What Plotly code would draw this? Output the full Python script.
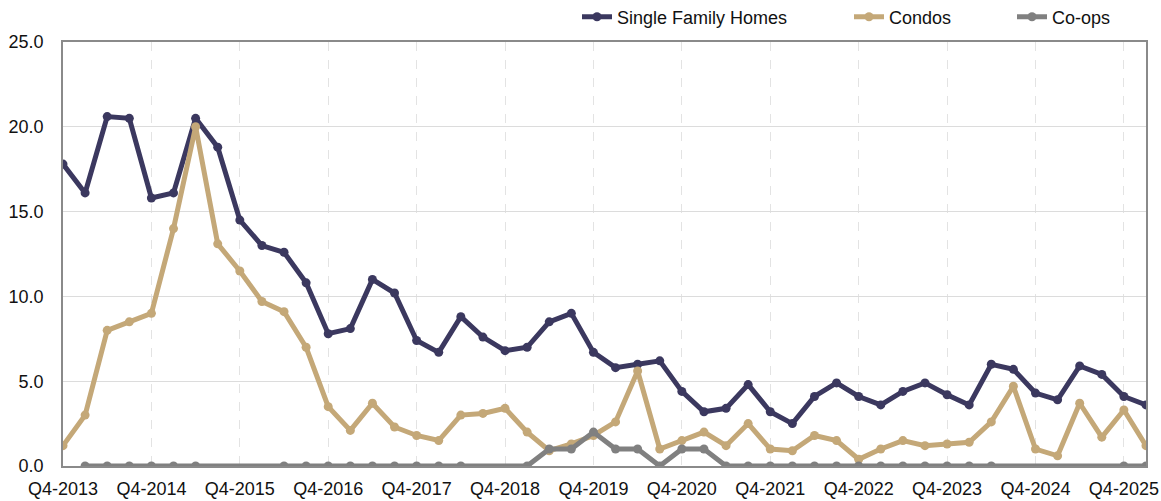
import plotly.graph_objects as go

quarters = ["Q4-2013"] + [f"Q{q}-{y}" for y in range(2014, 2026) for q in range(1, 5)] + ["Q1-2026"]

single_family = [17.8, 16.1, 20.6, 20.5, 15.8, 16.1, 20.5, 18.8, 14.5, 13.0,
                 12.6, 10.8, 7.8, 8.1, 11.0, 10.2, 7.4, 6.7, 8.8, 7.6,
                 6.8, 7.0, 8.5, 9.0, 6.7, 5.8, 6.0, 6.2, 4.4, 3.2,
                 3.4, 4.8, 3.2, 2.5, 4.1, 4.9, 4.1, 3.6, 4.4, 4.9,
                 4.2, 3.6, 6.0, 5.7, 4.3, 3.9, 5.9, 5.4, 4.1, 3.6]

condos = [1.2, 3.0, 8.0, 8.5, 9.0, 14.0, 20.0, 13.1, 11.5, 9.7,
          9.1, 7.0, 3.5, 2.1, 3.7, 2.3, 1.8, 1.5, 3.0, 3.1,
          3.4, 2.0, 0.9, 1.3, 1.8, 2.6, 5.6, 1.0, 1.5, 2.0,
          1.2, 2.5, 1.0, 0.9, 1.8, 1.5, 0.4, 1.0, 1.5, 1.2,
          1.3, 1.4, 2.6, 4.7, 1.0, 0.6, 3.7, 1.7, 3.3, 1.2]

coops = [None, 0, 0, 0, 0, 0, 0, None, None, None,
         0, 0, 0, 0, 0, 0, 0, 0, 0, None,
         None, 0, 1.0, 1.0, 2.0, 1.0, 1.0, 0, 1.0, 1.0,
         0, 0, 0, 0, 0, 0, 0, 0, 0, 0,
         0, 0, 0, None, None, None, None, None, 0, 0]

tick_labels = [quarters[i] for i in range(0, 49, 4)]
y_ticks = [0, 5, 10, 15, 20, 25]

series = [
    ("Single Family Homes", single_family, "#3b385f", "legend"),
    ("Condos", condos, "#c4a878", "legend2"),
    ("Co-ops", coops, "#808080", "legend3"),
]

fig = go.Figure()
for name, vals, color, lg in series:
    fig.add_trace(go.Scatter(
        x=quarters, y=vals, name=name, mode="lines+markers",
        connectgaps=True, legend=lg,
        line=dict(color=color, width=5),
        marker=dict(color=color, size=9),
    ))

W, H = 1161, 501

def legend_at(text_x):
    return dict(orientation="h", xref="container", yref="container",
                x=(text_x - 40) / W, xanchor="left",
                y=1 - 17 / H, yanchor="middle",
                font=dict(size=18), bgcolor="rgba(0,0,0,0)")

fig.update_layout(
    width=W, height=H,
    margin=dict(l=63, r=15, t=42, b=35, autoexpand=False),
    paper_bgcolor="white", plot_bgcolor="white",
    font=dict(family="Liberation Sans, Arial, sans-serif", color="#111111"),
    legend=legend_at(617),
    legend2=legend_at(889),
    legend3=legend_at(1052),
    showlegend=True,
)
fig.update_xaxes(
    type="category", range=[0, 49], automargin=False,
    tickmode="array", tickvals=tick_labels, ticktext=tick_labels,
    showgrid=True, gridcolor="#e3e3e3", griddash="dash", gridwidth=1,
    showline=True, linecolor="#8a8a8a", linewidth=1.5, mirror=True,
    ticks="", tickfont=dict(size=18), ticklabelstandoff=6, zeroline=False,
)
fig.update_yaxes(
    range=[0, 25], tickvals=y_ticks, tickformat=".1f", automargin=False,
    showgrid=True, gridcolor="#dcdcdc", gridwidth=1,
    showline=True, linecolor="#8a8a8a", linewidth=1.5, mirror=True,
    ticks="", tickfont=dict(size=18), ticklabelstandoff=14, zeroline=False,
)

fig.write_html("out.html", config={"displayModeBar": False},
               post_script="document.body.style.margin='0';document.body.style.padding='0';")
